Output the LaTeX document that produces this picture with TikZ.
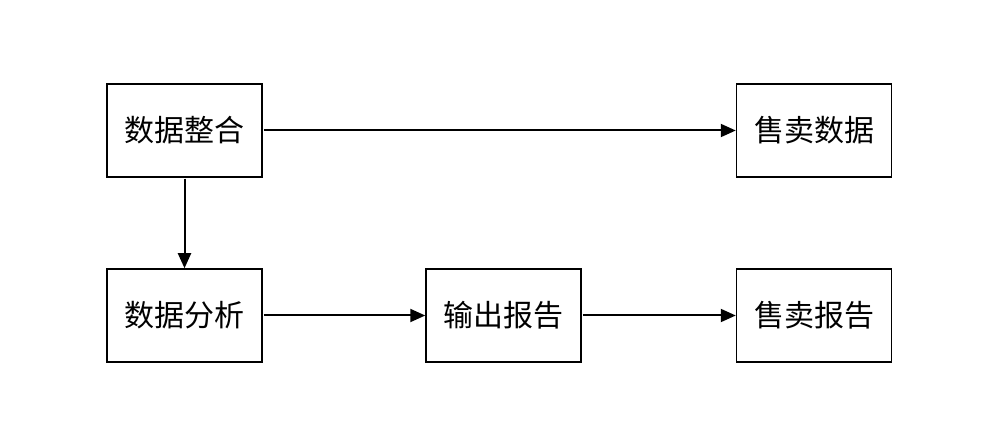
\documentclass[tikz,border=0pt]{standalone}
\usepackage{fontspec}
\newfontfamily\cjk{Noto Sans CJK SC}
\usetikzlibrary{arrows.meta}
\begin{document}
\begin{tikzpicture}[x=1pt,y=-1pt,
  box/.style={draw,line width=1.5pt,minimum width=155pt,minimum height=93pt,inner sep=0pt,font=\cjk\fontsize{30}{32}\selectfont},
  conn/.style={line width=2pt,shorten <=1pt,-{Triangle[length=15pt,width=13pt]}}]
\useasboundingbox[fill=white] (0,0) rectangle (994,435);
\node[box] (zh) at (184.5,130.5) {数据整合};
\node[box] (ms) at (814,130.5) {售卖数据};
\node[box] (fx) at (184.5,315.5) {数据分析};
\node[box] (bg) at (503.5,315.5) {输出报告};
\node[box] (mb) at (814,315.5) {售卖报告};
\draw[conn] (zh) -- (ms);
\draw[conn] (zh) -- (fx);
\draw[conn] (fx) -- (bg);
\draw[conn] (bg) -- (mb);
\end{tikzpicture}
\end{document}
